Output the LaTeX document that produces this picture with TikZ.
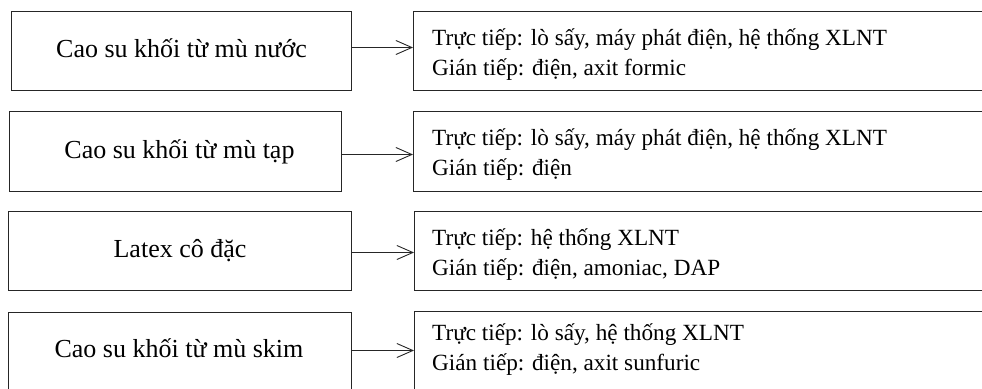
\documentclass[tikz,border=0pt]{standalone}
\usepackage{fontspec}
\setmainfont{Liberation Serif}
\usetikzlibrary{arrows.meta}
\begin{document}
\begin{tikzpicture}[x=1pt,y=-1pt,
  lbox/.style={draw=black!85, line width=1pt, anchor=north west, inner sep=0pt,
    font=\fontsize{26}{30}\selectfont, text height=16pt, text depth=3pt},
  rbox/.style={draw=black!85, line width=1pt, anchor=north west, inner sep=0pt, minimum width=620pt},
  rtext/.style={anchor=base west, inner sep=0pt, align=left,
    font=\fontsize{23.2}{30}\selectfont},
  arr/.style={draw=black!85, line width=0.9pt,
    -{Straight Barb[length=16pt,width=14pt,line width=0.9pt]}}
]
\useasboundingbox (0,0) rectangle (982,388);
\clip (0,0) rectangle (982,388);

% row 1
\node[lbox, minimum width=340pt, minimum height=79pt] (L1) at (11,11) {Cao su khối từ mù nước};
\node[rbox, minimum height=79pt] (R1) at (413,11) {};
\node[rtext] (T1) at (432,75) {Trực tiếp: lò sấy, máy phát điện, hệ thống XLNT\\Gián tiếp: điện, axit formic};
\draw[arr] ([yshift=3.5pt]L1.east) -- ([yshift=3.5pt]R1.west);

% row 2
\node[lbox, minimum width=332pt, minimum height=80pt] (L2) at (9,111) {\hspace*{8pt}Cao su khối từ mù tạp};
\node[rbox, minimum height=80pt] (R2) at (413,111) {};
\node[rtext] (T2) at (432,175) {Trực tiếp: lò sấy, máy phát điện, hệ thống XLNT\\Gián tiếp: điện};
\draw[arr] ([yshift=-3pt]L2.east) -- ([yshift=-3pt]R2.west);

% row 3
\node[lbox, minimum width=343pt, minimum height=79pt] (L3) at (8,211) {Latex cô đặc};
\node[rbox, minimum height=79pt] (R3) at (414,211) {};
\node[rtext] (T3) at (432,275) {Trực tiếp: hệ thống XLNT\\Gián tiếp: điện, amoniac, DAP};
\draw[arr] ([yshift=-1.5pt]L3.east) -- ([yshift=-1.5pt]R3.west);

% row 4
\node[lbox, minimum width=343pt, minimum height=90pt] (L4) at (8,312) {};
\node[rbox, minimum height=100pt] (R4) at (414,311) {};
\node[lbox, draw=none, anchor=base] (C4) at (179,357) {Cao su khối từ mù skim};
\node[rtext] (T4) at (432,370) {Trực tiếp: lò sấy, hệ thống XLNT\\Gián tiếp: điện, axit sunfuric};
\draw[arr] (L4.east |- C4.center) -- (R4.west |- C4.center);
\end{tikzpicture}
\end{document}
